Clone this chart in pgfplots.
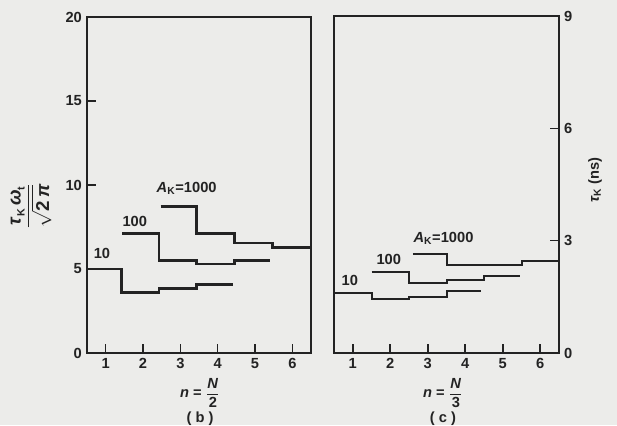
\documentclass[border=0pt]{standalone}
\usepackage{amsmath}
\usepackage{pgfplots}
\pgfplotsset{compat=1.18}
\usepackage{fontspec}
\setmainfont{Liberation Sans}
\definecolor{bg}{RGB}{236,236,234}
\definecolor{ink}{RGB}{35,35,35}

\pgfplotsset{
  panel/.style={
    anchor=south west, scale only axis,
    xmin=0.5, xmax=6.5, ymin=0,
    xtick={1,2,3,4,5,6},
    tick align=inside, major tick length=7pt,
    axis line style={ink, line width=1.3pt},
    tick style={ink, line width=1.2pt},
    every tick label/.append style={font=\bfseries\fontsize{11}{13}\selectfont, text=ink},
    /pgf/number format/assume math mode=true,
    clip=false,
  },
  step/.style={ink, line width=#1, line join=miter},
}

\begin{document}
\bfseries\fontsize{11}{13}\selectfont
\begin{tikzpicture}
\fill[bg] (0,0) rectangle (462.75pt,318.75pt);
\useasboundingbox (0,0) rectangle (462.75pt,318.75pt);

% panel (b)
\begin{axis}[panel, at={(65.25pt,54pt)}, width=168pt, height=252pt,
  ymax=20, ytick={0,5,10,15,20}, xtick pos=bottom, ytick pos=left]
\addplot[step=2.1pt] coordinates {(0.5,5.0)(1.43,5.0)(1.43,3.6)(2.43,3.6)(2.43,3.85)(3.43,3.85)(3.43,4.1)(4.4,4.1)};
\addplot[step=2.1pt] coordinates {(1.45,7.1)(2.43,7.1)(2.43,5.5)(3.43,5.5)(3.43,5.3)(4.45,5.3)(4.45,5.5)(5.4,5.5)};
\addplot[step=2.1pt] coordinates {(2.47,8.7)(3.43,8.7)(3.43,7.1)(4.45,7.1)(4.45,6.55)(5.47,6.55)(5.47,6.3)(6.5,6.3)};
\node[ink] at (axis cs:0.9,5.95) {10};
\node[ink] at (axis cs:1.78,7.86) {100};
\node[ink] at (axis cs:3.17,9.8) {\textit{A}\textsubscript{K}=1000};
\end{axis}

% panel (c)
\begin{axis}[panel, at={(250.5pt,54pt)}, width=168.75pt, height=252.75pt,
  ymax=9, ytick={0,3,6,9}, xtick pos=bottom, ytick pos=right]
\addplot[step=1.5pt] coordinates {(0.5,1.61)(1.5,1.61)(1.5,1.43)(2.5,1.43)(2.5,1.5)(3.5,1.5)(3.5,1.65)(4.43,1.65)};
\addplot[step=1.5pt] coordinates {(1.5,2.17)(2.5,2.17)(2.5,1.86)(3.5,1.86)(3.5,1.95)(4.5,1.95)(4.5,2.05)(5.45,2.05)};
\addplot[step=1.5pt] coordinates {(2.6,2.64)(3.5,2.64)(3.5,2.35)(5.5,2.35)(5.5,2.46)(6.5,2.46)};
\node[ink] at (axis cs:0.92,1.95) {10};
\node[ink] at (axis cs:1.96,2.51) {100};
\node[ink] at (axis cs:3.42,3.07) {\textit{A}\textsubscript{K}=1000};
\end{axis}

% axis labels
\node[ink, rotate=90, font=\bfseries\fontsize{14}{16}\selectfont] at (23.25pt,164.25pt)
  {$\dfrac{\mbox{\textit{τ}\raisebox{-.4ex}{\footnotesize K}\,\textit{ω}\raisebox{-.4ex}{\footnotesize t}}}{\sqrt{\mbox{2\,\textit{π}}}}$};
\node[ink, rotate=90] at (446.25pt,183.75pt) {\textit{τ}\textsubscript{K} (ns)};
\node[ink] at (150pt,24pt) {\textit{n} = $\dfrac{\mbox{\textit{N}}}{\mbox{2}}$};
\node[ink] at (150pt,5pt) {( b )};
\node[ink] at (332.25pt,24pt) {\textit{n} = $\dfrac{\mbox{\textit{N}}}{\mbox{3}}$};
\node[ink] at (332.25pt,5pt) {( c )};
\end{tikzpicture}
\end{document}
